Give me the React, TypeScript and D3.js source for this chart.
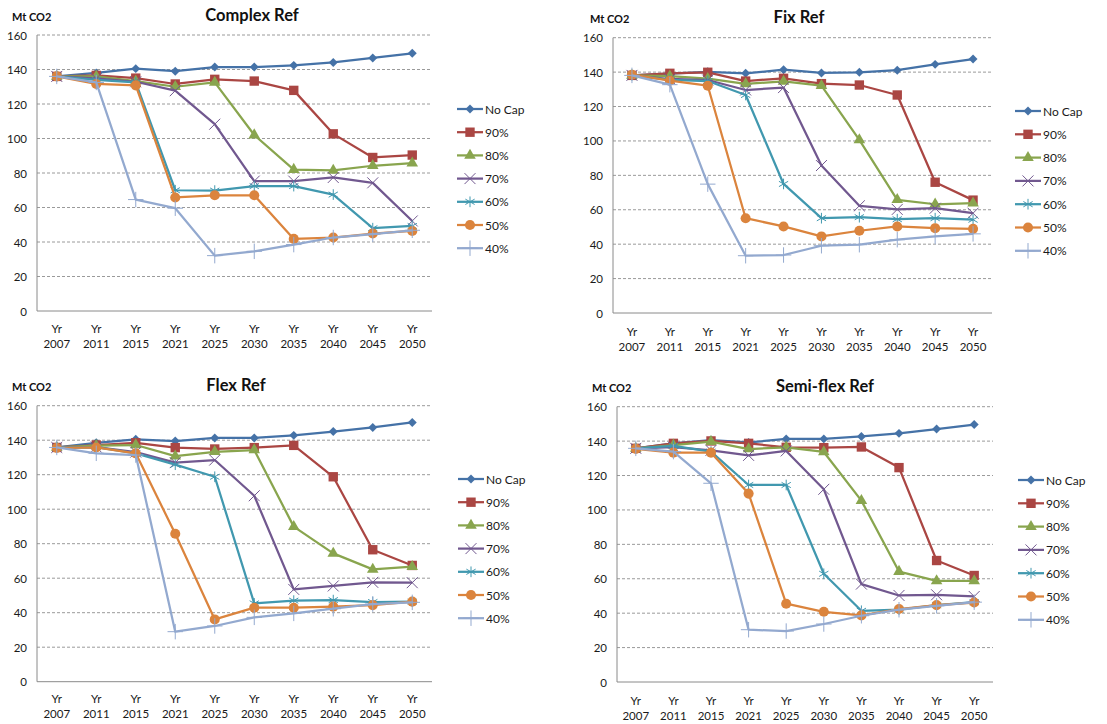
import React from 'react';
import * as d3 from 'd3';

const years = ['2007', '2011', '2015', '2021', '2025', '2030', '2035', '2040', '2045', '2050'];
const seriesNames = ['No Cap', '90%', '80%', '70%', '60%', '50%', '40%'];
const seriesColors = ['#4572A7', '#AA4643', '#89A54E', '#71588F', '#4198AF', '#DB843D', '#93A9CF'];
const yTicks = [0, 20, 40, 60, 80, 100, 120, 140, 160];

// series order: No Cap, 90%, 80%, 70%, 60%, 50%, 40%
const complexRef = [
  [136, 138, 140.5, 139, 141.4, 141.4, 142.4, 144.1, 146.7, 149.4],
  [136, 136.6, 135, 131.6, 134.3, 133.3, 127.9, 102.7, 89, 90.4],
  [136, 136, 133.3, 130, 132.5, 102, 82, 81.5, 84.2, 85.7],
  [136, 134.8, 132.9, 127.7, 108.3, 75.3, 75.3, 77.4, 74.3, 52.2],
  [136, 134, 132.5, 70, 69.8, 72.4, 72.4, 67.5, 48, 49.3],
  [136, 131.6, 130.8, 65.8, 67.1, 67.1, 41.8, 42.6, 44.9, 46.4],
  [136, 132.5, 64.6, 59.6, 32.1, 34.6, 38.5, 42.6, 44.5, 46.8],
];

const fixRef = [
  [138.1, 139.1, 140.2, 139.3, 141.4, 139.5, 139.9, 141.1, 144.5, 147.6],
  [138.1, 139.3, 139.9, 134.8, 136.4, 133.3, 132.5, 126.7, 76, 65.6],
  [138.1, 137.7, 136.2, 133.1, 134.6, 132.1, 100.6, 65.8, 63.2, 63.8],
  [138.1, 136, 135.4, 129.6, 131, 85.7, 62.3, 60.2, 60.9, 58],
  [138.1, 135.5, 134.8, 126.7, 75, 55.1, 55.7, 54.5, 55.1, 54.2],
  [138.5, 135, 132.1, 55.1, 50.3, 44.5, 47.8, 50.3, 49.3, 48.9],
  [138.1, 132.7, 74.9, 33.3, 33.7, 39.1, 39.7, 42.6, 44.5, 46],
];

const flexRef = [
  [135.8, 138.5, 140.5, 139.5, 141.3, 141.3, 142.8, 145, 147.4, 150.3],
  [135.8, 137.2, 138.5, 135.7, 134.9, 135.7, 137, 118.8, 76.5, 67.4],
  [135.8, 136.8, 137.2, 130.8, 133.3, 134.3, 89.9, 74.4, 65.1, 66.7],
  [135.8, 136, 133.1, 127, 128.5, 107.8, 53.5, 55.5, 57.6, 57.4],
  [135.8, 136, 132.4, 125.8, 118.8, 45.4, 47, 47.3, 46.2, 46.4],
  [135.5, 135.8, 132.4, 85.8, 36.1, 42.9, 42.9, 43.5, 44.4, 46.4],
  [135.8, 132.4, 131.4, 29, 32.3, 37.3, 39.6, 42.3, 45, 46],
];

const semiFlexRef = [
  [135.8, 138.7, 140.6, 139.2, 141.3, 141.3, 142.7, 144.5, 147, 149.6],
  [135.8, 138.7, 140.1, 138.7, 136.4, 136.2, 136.6, 124.6, 70.6, 61.9],
  [135.8, 137.7, 139.7, 135.4, 136.4, 133.7, 105.4, 64.2, 58.8, 58.8],
  [135.8, 136.5, 134.6, 131.7, 134.3, 112, 56.9, 50.3, 50.7, 49.7],
  [135.8, 137.2, 133.9, 114.5, 114.5, 62.9, 41.4, 42, 44.7, 46.4],
  [135.5, 133.3, 133.3, 109.5, 45.5, 40.8, 38.7, 42.4, 44.7, 46.2],
  [135.8, 133.9, 115.5, 30.4, 29.6, 33.7, 38.5, 42, 44.3, 46.4],
];

const panelTitles = ['Complex Ref', 'Fix Ref', 'Flex Ref', 'Semi-flex Ref'];
const panelData = [complexRef, fixRef, flexRef, semiFlexRef];

const layouts = [
  { x0: 37, x1: 432, yTop: 35, yBot: 311, titleX: 252, titleY: 15, unitX: 12, unitY: 16, legX: 457, legY: 109, legDy: 23.2, yrY: 328 },
  { x0: 613, x1: 992, yTop: 37.7, yBot: 313, titleX: 799, titleY: 17, unitX: 590, unitY: 18, legX: 1015, legY: 111, legDy: 23.3, yrY: 331 },
  { x0: 37, x1: 432, yTop: 405.7, yBot: 681.7, titleX: 236, titleY: 385, unitX: 12, unitY: 386, legX: 458, legY: 479, legDy: 23.2, yrY: 698 },
  { x0: 617, x1: 993, yTop: 406.7, yBot: 682, titleX: 825, titleY: 386, unitX: 592, unitY: 387, legX: 1018, legY: 480, legDy: 23.3, yrY: 700 },
];

const FONT = 'Lato, "Open Sans", sans-serif';

type MarkerSpec = { type: d3.SymbolType; size: number; fill: boolean; rotate: number; sw: number };
const markerSpecs: MarkerSpec[] = [
  { type: d3.symbolSquare, size: 40, fill: true, rotate: 45, sw: 0 },
  { type: d3.symbolSquare, size: 88, fill: true, rotate: 0, sw: 0 },
  { type: d3.symbolTriangle, size: 58, fill: true, rotate: 0, sw: 0 },
  { type: d3.symbolTimes, size: 80, fill: false, rotate: 0, sw: 1 },
  { type: d3.symbolAsterisk, size: 80, fill: false, rotate: 0, sw: 1 },
  { type: d3.symbolCircle, size: 80, fill: true, rotate: 0, sw: 0 },
  { type: d3.symbolPlus, size: 80, fill: false, rotate: 0, sw: 1 },
];

function Marker({ x, y, i }: { x: number; y: number; i: number }) {
  const spec = markerSpecs[i];
  const d = d3.symbol().type(spec.type).size(spec.size)() || '';
  const c = seriesColors[i];
  return (
    <path
      d={d}
      transform={`translate(${x},${y}) rotate(${spec.rotate})`}
      fill={spec.fill ? c : 'none'}
      stroke={spec.fill ? 'none' : c}
      strokeWidth={spec.sw}
    />
  );
}

function Panel({ idx }: { idx: number }) {
  const L = layouts[idx];
  const data = panelData[idx];
  const x = d3.scalePoint<string>().domain(years).range([L.x0, L.x1]).padding(0.5);
  const y = d3.scaleLinear().domain([0, 160]).range([L.yBot, L.yTop]);
  const line = d3
    .line<number>()
    .x((_, j) => x(years[j]) as number)
    .y((v) => y(v));
  return (
    <g>
      <text x={L.titleX} y={L.titleY} textAnchor="middle" dominantBaseline="central" fontFamily={FONT} fontWeight="bold" fontSize={16.5} fill="#111">
        {panelTitles[idx]}
      </text>
      <text x={L.unitX} y={L.unitY} dominantBaseline="central" fontFamily={FONT} fontWeight="bold" fontSize={11} fill="#111">
        Mt CO2
      </text>
      {yTicks.map((t) => (
        <g key={t}>
          {t > 0 && (
            <line x1={L.x0} x2={L.x1} y1={y(t)} y2={y(t)} stroke="#9a9a9a" strokeWidth={1} strokeDasharray="3,2" />
          )}
          <text x={L.x0 - 10} y={y(t)} textAnchor="end" dominantBaseline="central" fontFamily={FONT} fontSize={11.5} fill="#1a1a1a">
            {t}
          </text>
        </g>
      ))}
      <line x1={L.x0} x2={L.x0} y1={L.yTop} y2={L.yBot} stroke="#8a8a8a" strokeWidth={1} />
      <line x1={L.x0} x2={L.x1} y1={L.yBot} y2={L.yBot} stroke="#8a8a8a" strokeWidth={1} />
      {years.map((yr) => (
        <g key={yr}>
          <text x={x(yr)} y={L.yrY} textAnchor="middle" dominantBaseline="central" fontFamily={FONT} fontSize={11.5} fill="#1a1a1a">
            Yr
          </text>
          <text x={x(yr)} y={L.yrY + 15} textAnchor="middle" dominantBaseline="central" fontFamily={FONT} fontSize={11.5} fill="#1a1a1a">
            {yr}
          </text>
        </g>
      ))}
      {data.map((s, i) => (
        <g key={i}>
          <path d={line(s) || ''} fill="none" stroke={seriesColors[i]} strokeWidth={2.25} strokeLinejoin="round" />
          {s.map((v, j) => (
            <Marker key={j} x={x(years[j]) as number} y={y(v)} i={i} />
          ))}
        </g>
      ))}
      {seriesNames.map((n, i) => {
        const ly = L.legY + i * L.legDy;
        return (
          <g key={n}>
            <line x1={L.legX} x2={L.legX + 26} y1={ly} y2={ly} stroke={seriesColors[i]} strokeWidth={2.25} />
            <Marker x={L.legX + 13} y={ly} i={i} />
            <text x={L.legX + 28} y={ly} dominantBaseline="central" fontFamily={FONT} fontSize={12} fill="#1a1a1a">
              {n}
            </text>
          </g>
        );
      })}
    </g>
  );
}

export default function App() {
  return (
    <svg
      width={1107}
      height={724}
      style={{ position: 'absolute', left: 0, top: 0, background: '#fff' }}
    >
      <rect width={1107} height={724} fill="#fff" />
      {[0, 1, 2, 3].map((i) => (
        <Panel key={i} idx={i} />
      ))}
    </svg>
  );
}
